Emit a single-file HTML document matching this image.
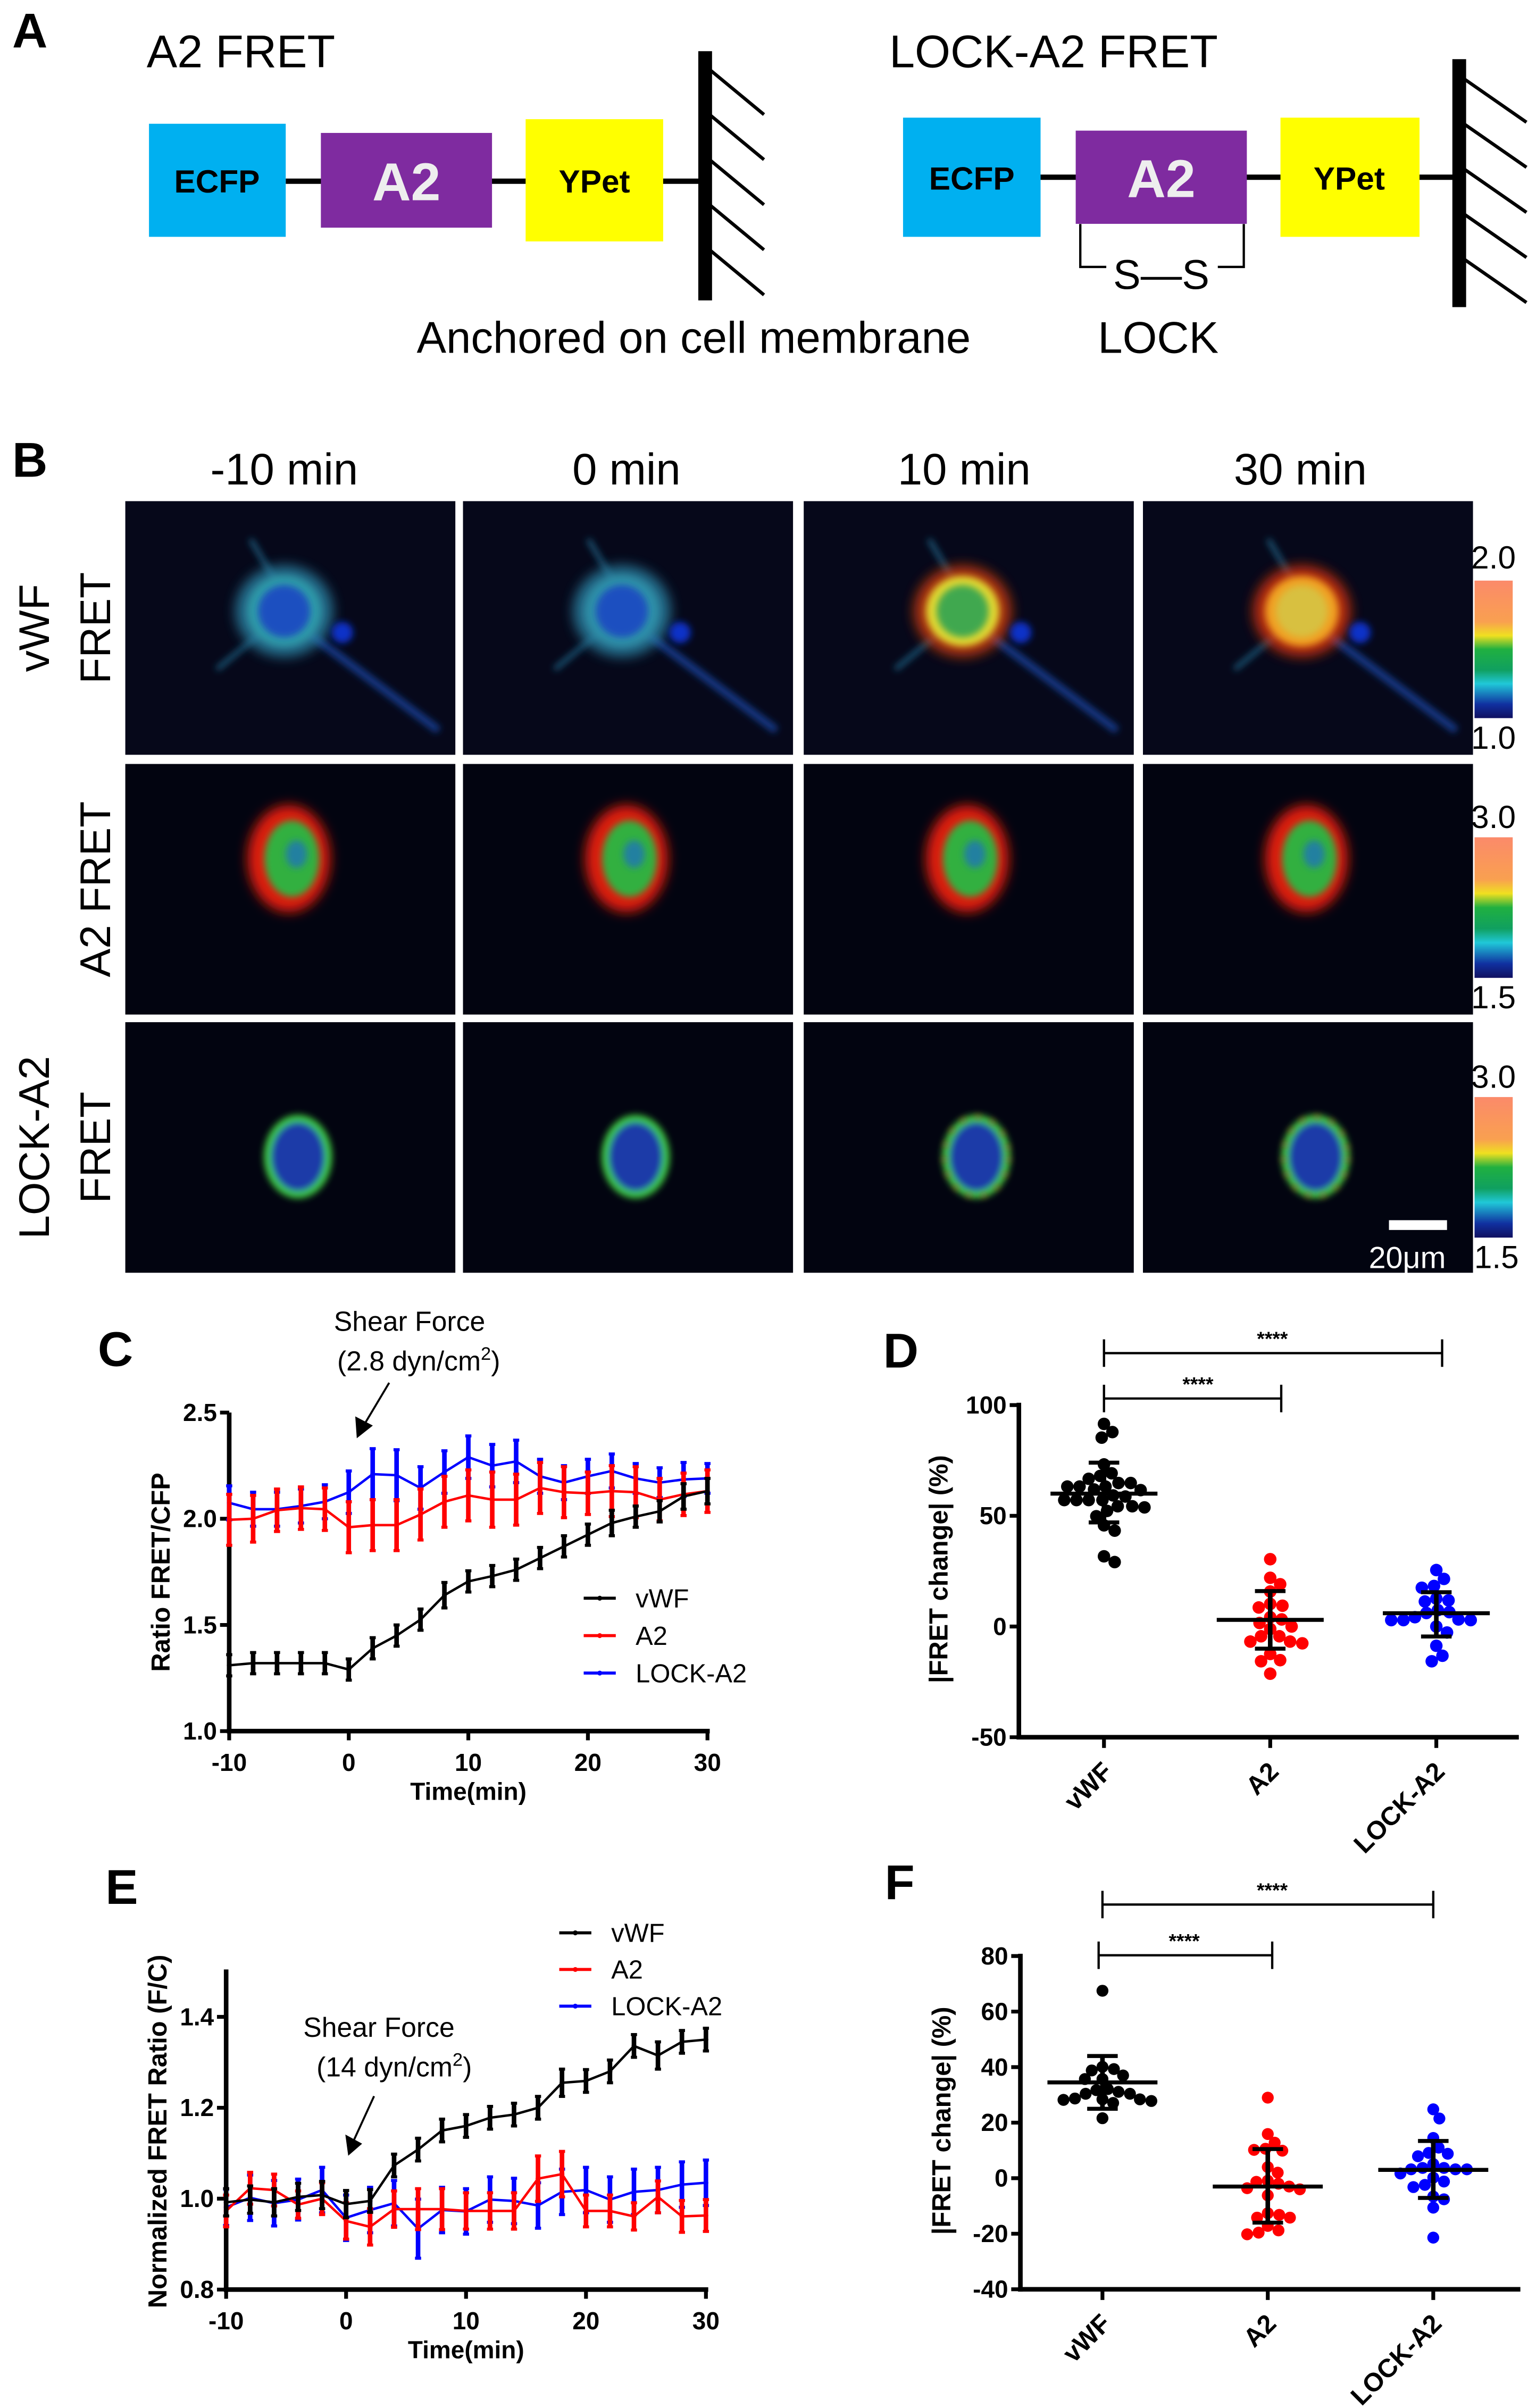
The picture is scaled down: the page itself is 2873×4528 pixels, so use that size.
<!DOCTYPE html>
<html><head><meta charset="utf-8"><title>FRET figure</title>
<style>
html,body{margin:0;padding:0;background:#fff;}
svg{display:block;}
text{font-family:"Liberation Sans",Arial,sans-serif;}
</style></head>
<body>
<svg id="fig" xmlns="http://www.w3.org/2000/svg" width="2873" height="4528" viewBox="0 0 1000 1576" preserveAspectRatio="none">
<defs>
<filter id="bl" x="-50%" y="-50%" width="200%" height="200%"><feGaussianBlur stdDeviation="2.2"/></filter>
<filter id="bl2" x="-50%" y="-50%" width="200%" height="200%"><feGaussianBlur stdDeviation="4"/></filter>
<linearGradient id="cbar" x1="0" y1="0" x2="0" y2="1">
<stop offset="0" stop-color="#fb8a6a"/><stop offset="0.3" stop-color="#f9a050"/><stop offset="0.4" stop-color="#f0e020"/><stop offset="0.5" stop-color="#20b040"/><stop offset="0.65" stop-color="#10a060"/><stop offset="0.75" stop-color="#20c8d8"/><stop offset="0.9" stop-color="#1030a0"/><stop offset="1" stop-color="#101060"/>
</linearGradient>
</defs>
<rect x="0" y="0" width="1000" height="1576" fill="#fff"/>

<!-- PANEL A -->
<g>
<text x="8" y="31" font-size="32" font-weight="bold">A</text>
<text x="96" y="44" font-size="30">A2 FRET</text>
<text x="582" y="44" font-size="30">LOCK-A2 FRET</text>
<line x1="187" y1="118.6" x2="461" y2="118.6" stroke="#000" stroke-width="3.5"/>
<rect x="97.5" y="81" width="89.5" height="74" fill="#00b0f0"/>
<text x="142" y="126" font-size="21" font-weight="bold" text-anchor="middle">ECFP</text>
<rect x="210" y="87" width="112" height="62" fill="#7f2ba0"/>
<text x="266" y="131" font-size="35" font-weight="bold" fill="#eee" text-anchor="middle">A2</text>
<rect x="344" y="78" width="90" height="80" fill="#ffff00"/>
<text x="389" y="126" font-size="21" font-weight="bold" text-anchor="middle">YPet</text>
<line x1="461.5" y1="33.5" x2="461.5" y2="196.6" stroke="#000" stroke-width="9"/>
<g stroke="#000" stroke-width="2.2">
<line x1="465" y1="46" x2="500" y2="75"/><line x1="465" y1="75.5" x2="500" y2="104.5"/><line x1="465" y1="105" x2="500" y2="134"/><line x1="465" y1="134.5" x2="500" y2="163.5"/><line x1="465" y1="164" x2="500" y2="193"/>
</g>
<line x1="681" y1="116" x2="955" y2="116" stroke="#000" stroke-width="3.5"/>
<rect x="591" y="77" width="90" height="78" fill="#00b0f0"/>
<text x="636" y="124" font-size="21" font-weight="bold" text-anchor="middle">ECFP</text>
<rect x="704" y="85.5" width="112" height="61" fill="#7f2ba0"/>
<text x="760" y="129" font-size="35" font-weight="bold" fill="#eee" text-anchor="middle">A2</text>
<rect x="838" y="77" width="91" height="78" fill="#ffff00"/>
<text x="883" y="124" font-size="21" font-weight="bold" text-anchor="middle">YPet</text>
<line x1="955" y1="38.7" x2="955" y2="201" stroke="#000" stroke-width="9"/>
<g stroke="#000" stroke-width="2.2">
<line x1="958" y1="51.5" x2="999" y2="80"/><line x1="958" y1="81" x2="999" y2="109.5"/><line x1="958" y1="110.5" x2="999" y2="139"/><line x1="958" y1="140" x2="999" y2="168.5"/><line x1="958" y1="169.5" x2="999" y2="198"/>
</g>
<polyline points="707,146.6 707,174.7 724,174.7" fill="none" stroke="#000" stroke-width="1.5"/>
<polyline points="814,146.6 814,174.7 797,174.7" fill="none" stroke="#000" stroke-width="1.5"/>
<text x="760" y="189" font-size="27" text-anchor="middle">S—S</text>
<text x="454" y="231" font-size="29" text-anchor="middle">Anchored on cell membrane</text>
<text x="758" y="231" font-size="29" text-anchor="middle">LOCK</text>
</g>

<!-- PANEL B -->
<g id="panelB">
<text x="8" y="312" font-size="32" font-weight="bold">B</text>
<text x="186" y="317" font-size="29" text-anchor="middle">-10 min</text>
<text x="410" y="317" font-size="29" text-anchor="middle">0 min</text>
<text x="631" y="317" font-size="29" text-anchor="middle">10 min</text>
<text x="851" y="317" font-size="29" text-anchor="middle">30 min</text>
<text transform="translate(32,411) rotate(-90)" font-size="28" text-anchor="middle">vWF</text>
<text transform="translate(72,411) rotate(-90)" font-size="28" text-anchor="middle">FRET</text>
<text transform="translate(72,582) rotate(-90)" font-size="28" text-anchor="middle">A2 FRET</text>
<text transform="translate(32,751) rotate(-90)" font-size="28" text-anchor="middle">LOCK-A2</text>
<text transform="translate(72,751) rotate(-90)" font-size="28" text-anchor="middle">FRET</text>
<rect x="965" y="380" width="25" height="90" fill="url(#cbar)"/>
<rect x="965" y="548" width="25" height="92" fill="url(#cbar)"/>
<rect x="965" y="718" width="25" height="92" fill="url(#cbar)"/>
</g>

<!-- PANEL C -->
<g id="panelC">
<text x="64" y="894" font-size="32" font-weight="bold">C</text>
<text x="268" y="871" font-size="18" text-anchor="middle">Shear Force</text>
<text x="274" y="897" font-size="18" text-anchor="middle">(2.8 dyn/cm<tspan font-size="12" dy="-7">2</tspan><tspan dy="7">)</tspan></text>
<line x1="254.7" y1="905" x2="238" y2="933" stroke="#000" stroke-width="1.3"/>
<polygon points="233.5,941.3 232.5,927 244,933" fill="#000"/>
</g>

<!-- PANEL E -->
<g id="panelE">
<text x="69" y="1246" font-size="32" font-weight="bold">E</text>
<text x="248" y="1333" font-size="18" text-anchor="middle">Shear Force</text>
<text x="258" y="1359" font-size="18" text-anchor="middle">(14 dyn/cm<tspan font-size="12" dy="-7">2</tspan><tspan dy="7">)</tspan></text>
<line x1="244.8" y1="1371.9" x2="231" y2="1402" stroke="#000" stroke-width="1.3"/>
<polygon points="227.9,1410.9 226,1397 237,1403" fill="#000"/>
</g>

<!-- PANEL D / F -->
<g id="panelD">
<text x="578" y="895" font-size="32" font-weight="bold">D</text>
</g>
<g id="panelF">
<text x="579" y="1243" font-size="32" font-weight="bold">F</text>
</g>

<!-- Colorbar labels drawn last -->
<g font-size="21" text-anchor="end">
<text x="992" y="372">2.0</text>
<text x="992" y="490">1.0</text>
<text x="992" y="542">3.0</text>
<text x="992" y="660">1.5</text>
<text x="992" y="712">3.0</text>
<text x="994" y="830">1.5</text>
</g>
</svg>

<script>
// ---------- Panel C data ----------
var timeC = [-10,-8,-6,-4,-2,0,2,4,6,8,10,12,14,16,18,20,22,24,26,28,30];
var cVwf = [1.31,1.32,1.32,1.32,1.32,1.29,1.39,1.45,1.525,1.64,1.705,1.73,1.76,1.815,1.87,1.925,1.98,2.01,2.035,2.105,2.13];
var cVwfErr = [0.05,0.05,0.05,0.05,0.05,0.05,0.05,0.05,0.05,0.06,0.05,0.05,0.05,0.05,0.05,0.05,0.06,0.05,0.05,0.06,0.06];
var cA2 = [1.995,2.0,2.04,2.05,2.045,1.96,1.97,1.97,2.02,2.08,2.11,2.09,2.09,2.145,2.125,2.12,2.13,2.125,2.09,2.115,2.13];
var cA2Err = [0.12,0.11,0.1,0.1,0.1,0.12,0.12,0.12,0.12,0.12,0.12,0.13,0.12,0.12,0.12,0.1,0.12,0.12,0.1,0.1,0.1];
var cLock = [2.075,2.045,2.045,2.06,2.08,2.125,2.21,2.205,2.145,2.22,2.29,2.25,2.27,2.2,2.17,2.2,2.225,2.19,2.17,2.185,2.19];
var cLockErr = [0.08,0.08,0.08,0.08,0.08,0.1,0.12,0.12,0.1,0.1,0.1,0.1,0.1,0.08,0.08,0.08,0.08,0.07,0.07,0.08,0.07];
var cYTicks = [1.0,1.5,2.0,2.5];
var cYTickLabels = ["1.0","1.5","2.0","2.5"];
var cXTicks = [-10,0,10,20,30];
var cXTickLabels = ["-10","0","10","20","30"];

// ---------- Panel E data ----------
var timeE = [-10,-8,-6,-4,-2,0,2,4,6,8,10,12,14,16,18,20,22,24,26,28,30];
var eVwf = [0.992,0.998,0.992,1.004,1.008,0.988,0.995,1.073,1.108,1.15,1.16,1.178,1.185,1.2,1.255,1.259,1.28,1.336,1.315,1.345,1.35];
var eVwfErr = [0.03,0.03,0.03,0.03,0.03,0.03,0.025,0.025,0.025,0.025,0.025,0.025,0.025,0.025,0.03,0.025,0.025,0.025,0.03,0.025,0.025];
var eA2 = [0.973,1.023,1.019,0.987,1.0,0.951,0.938,0.977,0.977,0.977,0.973,0.973,0.973,1.044,1.054,0.973,0.973,0.961,1.004,0.961,0.963];
var eA2Err = [0.035,0.035,0.035,0.03,0.035,0.04,0.04,0.04,0.045,0.045,0.04,0.04,0.04,0.05,0.05,0.035,0.035,0.03,0.035,0.035,0.035];
var eLock = [0.981,1.002,0.99,0.998,1.019,0.958,0.975,0.99,0.934,0.975,0.972,0.998,0.995,0.985,1.015,1.019,0.998,1.015,1.019,1.031,1.035];
var eLockErr = [0.04,0.05,0.05,0.045,0.05,0.05,0.05,0.05,0.065,0.05,0.05,0.05,0.05,0.05,0.05,0.05,0.05,0.05,0.05,0.05,0.05];
var eYTicks = [0.8,1.0,1.2,1.4];
var eYTickLabels = ["0.8","1.0","1.2","1.4"];
var eXTicks = [-10,0,10,20,30];
var eXTickLabels = ["-10","0","10","20","30"];

// ---------- Panel D data ----------
var groups = ["vWF","A2","LOCK-A2"];
var dVwf = [91.5,87.8,85.3,73.2,69.2,68,66.7,64.8,64.8,63.2,63.2,63.2,61.9,61.6,58.7,57.1,57.1,57.1,57.1,59.2,54.3,53.8,54.3,52.2,49.8,45.7,43.3,29.1,31.7];
var dA2 = [30.4,22,19.1,15.8,10.2,8.6,9.4,4.2,3.2,1.6,-1.1,0,-4.4,-4.4,-6.8,-7.6,-6.8,-12.4,-15.2,-15.7,-21.3];
var dLock = [25.5,21.5,17.5,18.3,11.8,12.6,11.3,7.4,6.1,6.5,3.2,2.9,2.9,2.9,4.2,0,-2.7,-8.7,-13.2,-15.7];
var dMean = [60,3,6];
var dSdHigh = [74,16,15.5];
var dSdLow = [47,-10,-4.5];
var dYTicks = [-50,0,50,100];
var dYTickLabels = ["-50","0","50","100"];

// ---------- Panel F data ----------
var fVwf = [67.5,39.3,40.1,37,35.7,35.7,38.8,31.7,30.4,30.4,31.1,32.1,28.7,28.2,27.1,27.8,28.4,28.4,21.6];
var fA2 = [29,15.9,12.8,10.6,9.9,10.2,4,2,-0.9,-2,-3.6,-6.2,-4,-3,-1.3,-13.2,-14.2,-14.2,-12.6,-18.8,-20.2,-19.6,-17.2];
var fLock = [24.8,21.5,14.5,11,9.1,8.8,7.9,5.1,3.7,3.2,3.2,3.2,3.7,1.7,0.2,-1.2,-2.4,-3.2,-6.6,-7.6,-10.6,-21.4];
var fMean = [34.5,-3,3];
var fSdHigh = [44,10.5,13.4];
var fSdLow = [25,-16,-7.1];
var fYTicks = [-40,-20,0,20,40,60,80];
var fYTickLabels = ["-40","-20","0","20","40","60","80"];

var NS = "http://www.w3.org/2000/svg";
function mk(tag, attrs, parent) {
  var el = document.createElementNS(NS, tag);
  for (var k in attrs) el.setAttribute(k, attrs[k]);
  parent.appendChild(el);
  return el;
}

// ---------- Panel B microscopy images ----------
(function(){
  var pb = document.getElementById('panelB');
  var g = document.createElementNS(NS, 'g');
  
  
  pb.insertBefore(g, pb.firstChild);
  var colX = [82,303,526,748];
  var rowY = [328,500,669];
  var rowH = [166,164,164];
  for (var r = 0; r < 3; r++) {
    for (var c = 0; c < 4; c++) {
      var x0 = colX[c], y0 = rowY[r];
      var fr = mk('rect', {x:x0, y:y0, width:216, height:rowH[r], fill: r===0 ? '#06081a' : '#020410'}, g);
      
      
      var cg = mk('g', {}, g);
      
      
      if (r === 0) {
        var cx = x0 + 104, cy = y0 + 72;
        mk('line', {x1:cx+10, y1:cy+10, x2:x0+205, y2:y0+150, stroke:'#123a8a', 'stroke-width':5, filter:'url(#bl)'}, cg);
        mk('line', {x1:cx-10, y1:cy+10, x2:x0+60, y2:y0+110, stroke:'#1a5a7a', 'stroke-width':3, filter:'url(#bl)'}, cg);
        mk('line', {x1:cx, y1:cy-10, x2:cx-22, y2:y0+25, stroke:'#1a5a7a', 'stroke-width':3, filter:'url(#bl)'}, cg);
        var outer = ['#2a80a0','#2a80a0','#c83a10','#d03010'][c];
        var ring = ['#2f9aa8','#2f90a8','#e0d830','#f0a020'][c];
        var inner = ['#1c50c0','#1c50c0','#40a850','#d8c040'][c];
        mk('ellipse', {cx:cx, cy:cy, rx:32, ry:30, fill:outer, filter:'url(#bl2)', opacity:0.85}, cg);
        mk('ellipse', {cx:cx, cy:cy, rx:24, ry:23, fill:ring, filter:'url(#bl)'}, cg);
        mk('ellipse', {cx:cx, cy:cy, rx:17, ry:17, fill:inner, filter:'url(#bl)'}, cg);
        mk('circle', {cx:cx+38, cy:cy+14, r:7, fill:'#1030c8', filter:'url(#bl)'}, cg);
      } else if (r === 1) {
        var cx2 = x0 + 107, cy2 = y0 + 62;
        mk('ellipse', {cx:cx2, cy:cy2, rx:27, ry:35, fill:'#e01a10', filter:'url(#bl2)'}, cg);
        mk('ellipse', {cx:cx2+2, cy:cy2, rx:18, ry:25, fill:'#30b040', filter:'url(#bl)'}, cg);
        mk('ellipse', {cx:cx2+5, cy:cy2-3, rx:7, ry:9, fill:'#2080a0', filter:'url(#bl)'}, cg);
      } else {
        var cx3 = x0 + 113, cy3 = y0 + 88;
        mk('ellipse', {cx:cx3, cy:cy3, rx:20, ry:25, fill:'#1a3aa8', stroke:'#40d040', 'stroke-width':4.5, filter:'url(#bl)'}, cg);
        if (c >= 2) {
          mk('ellipse', {cx:cx3, cy:cy3, rx:21, ry:26, fill:'none', stroke:'#e84020', 'stroke-width':1.5, 'stroke-dasharray':'4 6', filter:'url(#bl)'}, cg);
        }
      }
    }
  }
  var sb = mk('rect', {x:909, y:798.6, width:38, height:6.4, fill:'#fff'}, g);
  
  
  var st = mk('text', {x:921, y:830, 'font-size':20, fill:'#fff', 'text-anchor':'middle', 'font-family':'Liberation Serif, serif'}, g);
  st.textContent = '20\u03bcm';
  
  
})();

// ---------- Line chart builder ----------
function lineChart(gid, cfg) {
  var g = document.getElementById(gid);
  var xs = function(t){ return cfg.x0 + (t - cfg.tMin) * (cfg.x1 - cfg.x0) / (cfg.tMax - cfg.tMin); };
  var ys = function(v){ return cfg.yB - (v - cfg.vMin) * (cfg.yB - cfg.yT) / (cfg.vMax - cfg.vMin); };
  var ax = mk('line', {x1:cfg.x0, y1:cfg.axisTop, x2:cfg.x0, y2:cfg.yB + 1.5, stroke:'#000', 'stroke-width':3}, g);
  
  
  var axx = mk('line', {x1:cfg.x0 - 1.5, y1:cfg.yB, x2:cfg.x1 + 1.5, y2:cfg.yB, stroke:'#000', 'stroke-width':3}, g);
  
  
  cfg.yTicks.forEach(function(v, i){
    var y = ys(v);
    var tk = mk('line', {x1:cfg.x0 - 6, y1:y, x2:cfg.x0, y2:y, stroke:'#000', 'stroke-width':2.5}, g);
    
    
    var tl = mk('text', {x:cfg.x0 - 8, y:y + 5.5, 'font-size':16, 'font-weight':'bold', 'text-anchor':'end'}, g);
    tl.textContent = cfg.yTickLabels[i];
    
    
  });
  cfg.xTicks.forEach(function(t, i){
    var x = xs(t);
    var tk = mk('line', {x1:x, y1:cfg.yB, x2:x, y2:cfg.yB + 6, stroke:'#000', 'stroke-width':2.5}, g);
    
    
    var tl = mk('text', {x:x, y:cfg.yB + 26, 'font-size':16, 'font-weight':'bold', 'text-anchor':'middle'}, g);
    tl.textContent = cfg.xTickLabels[i];
    
    
  });
  var xt = mk('text', {x:(cfg.x0 + cfg.x1) / 2, y:cfg.yB + 45, 'font-size':16, 'font-weight':'bold', 'text-anchor':'middle'}, g);
  xt.textContent = 'Time(min)';
  
  
  var yt = mk('text', {transform:'translate(' + cfg.ylx + ',' + cfg.yly + ') rotate(-90)', 'font-size':17, 'font-weight':'bold', 'text-anchor':'middle'}, g);
  yt.textContent = cfg.yLabel;
  
  
  cfg.series.forEach(function(s){
    var sg = mk('g', {}, g);
    
    
    s.vals.forEach(function(v, i){
      var x = xs(cfg.time[i]);
      var eb = mk('line', {x1:x, y1:ys(v + s.err[i]), x2:x, y2:ys(v - s.err[i]), stroke:s.color, 'stroke-width':3}, sg);
      
      
      var c1 = mk('line', {x1:x - 2, y1:ys(v + s.err[i]), x2:x + 2, y2:ys(v + s.err[i]), stroke:s.color, 'stroke-width':2}, sg);
      
      
      var c2 = mk('line', {x1:x - 2, y1:ys(v - s.err[i]), x2:x + 2, y2:ys(v - s.err[i]), stroke:s.color, 'stroke-width':2}, sg);
      
      
    });
    var pts = s.vals.map(function(v, i){ return xs(cfg.time[i]).toFixed(2) + ',' + ys(v).toFixed(2); }).join(' ');
    var pl = mk('polyline', {points:pts, fill:'none', stroke:s.color, 'stroke-width':1.6}, sg);
    
    
    s.vals.forEach(function(v, i){
      var pt = mk('circle', {cx:xs(cfg.time[i]), cy:ys(v), r:1.6, fill:s.color}, sg);
      
      
    });
  });
  cfg.legend.forEach(function(s, i){
    var y = cfg.legY + i * cfg.legDy;
    var lg = mk('g', {}, g);
    
    
    mk('line', {x1:cfg.legX, y1:y, x2:cfg.legX + 21, y2:y, stroke:s.color, 'stroke-width':2}, lg);
    mk('circle', {cx:cfg.legX + 10.5, cy:y, r:1.6, fill:s.color}, lg);
    var lt = mk('text', {x:cfg.legX + 34, y:y + 6, 'font-size':17}, lg);
    lt.textContent = s.label;
  });
}

var sC = [{name:'lock-a2', label:'LOCK-A2', color:'#0000ff', vals:cLock, err:cLockErr},
          {name:'a2', label:'A2', color:'#ff0000', vals:cA2, err:cA2Err},
          {name:'vwf', label:'vWF', color:'#000000', vals:cVwf, err:cVwfErr}];
lineChart('panelC', {p:'c', x0:150, x1:463, tMin:-10, tMax:30, yB:1133, yT:924.5, vMin:1.0, vMax:2.5, axisTop:924.5,
  time:timeC, yTicks:cYTicks, yTickLabels:cYTickLabels, xTicks:cXTicks, xTickLabels:cXTickLabels,
  ylx:111, yly:1029, yLabel:'Ratio FRET/CFP', series:sC,
  legend:[sC[2], sC[1], sC[0]], legX:382, legY:1046, legDy:24.5});

var sE = [{name:'lock-a2', label:'LOCK-A2', color:'#0000ff', vals:eLock, err:eLockErr},
          {name:'a2', label:'A2', color:'#ff0000', vals:eA2, err:eA2Err},
          {name:'vwf', label:'vWF', color:'#000000', vals:eVwf, err:eVwfErr}];
lineChart('panelE', {p:'e', x0:148, x1:462, tMin:-10, tMax:30, yB:1498.5, yT:1320, vMin:0.8, vMax:1.4, axisTop:1289,
  time:timeE, yTicks:eYTicks, yTickLabels:eYTickLabels, xTicks:eXTicks, xTickLabels:eXTickLabels,
  ylx:109, yly:1395, yLabel:'Normalized FRET Ratio (F/C)', series:sE,
  legend:[sE[2], sE[1], sE[0]], legX:366, legY:1265, legDy:24});

// ---------- Scatter builder ----------
function scatter(gid, cfg) {
  var g = document.getElementById(gid);
  var ys = function(v){ return cfg.yB - (v - cfg.vMin) * (cfg.yB - cfg.yT) / (cfg.vMax - cfg.vMin); };
  var ax = mk('line', {x1:cfg.x0, y1:cfg.yT - 1.5, x2:cfg.x0, y2:cfg.yB + 1.5, stroke:'#000', 'stroke-width':3}, g);
  
  
  var axx = mk('line', {x1:cfg.x0 - 1.5, y1:cfg.yB, x2:cfg.xEnd, y2:cfg.yB, stroke:'#000', 'stroke-width':3}, g);
  
  
  cfg.yTicks.forEach(function(v, i){
    var y = ys(v);
    var tk = mk('line', {x1:cfg.x0 - 6, y1:y, x2:cfg.x0, y2:y, stroke:'#000', 'stroke-width':2.5}, g);
    
    
    var tl = mk('text', {x:cfg.x0 - 8, y:y + 5.5, 'font-size':16, 'font-weight':'bold', 'text-anchor':'end'}, g);
    tl.textContent = cfg.yTickLabels[i];
    
    
  });
  var yt = mk('text', {transform:'translate(' + cfg.ylx + ',' + cfg.yly + ') rotate(-90)', 'font-size':17, 'font-weight':'bold', 'text-anchor':'middle'}, g);
  yt.textContent = '|FRET change| (%)';
  
  
  var colors = ['#000000','#ff0000','#0000ff'];
  var r = cfg.r;
  cfg.data.forEach(function(arr, gi){
    var cx = cfg.cats[gi];
    var tk = mk('line', {x1:cx, y1:cfg.yB, x2:cx, y2:cfg.yB + 7, stroke:'#000', 'stroke-width':2.5}, g);
    
    
    var lb = mk('text', {transform:'translate(' + (cx - 2) + ',' + (cfg.yB + 15) + ') rotate(-45)', 'font-size':17, 'font-weight':'bold', 'text-anchor':'end', 'dominant-baseline':'hanging'}, g);
    lb.textContent = groups[gi];
    
    
    var sg = mk('g', {}, g);
    
    
    var sorted = arr.slice().sort(function(a, b){ return b - a; });
    var placed = [];
    sorted.forEach(function(v){
      var y = ys(v), off = 0;
      for (var k = 0; k < 400; k++) {
        var cand = (k === 0) ? 0 : (k % 2 ? 1 : -1) * Math.ceil(k / 2) * 0.5;
        var ok = placed.every(function(p){ var dx = p[0] - cand, dy = p[1] - y; return dx * dx + dy * dy >= (2 * r - 0.6) * (2 * r - 0.6); });
        if (ok) { off = cand; break; }
      }
      placed.push([off, y]);
      var dot = mk('circle', {cx:cx + off, cy:y, r:r, fill:colors[gi]}, sg);
      
      
    });
    var m = mk('line', {x1:cx - cfg.mw, y1:ys(cfg.mean[gi]), x2:cx + cfg.mw, y2:ys(cfg.mean[gi]), stroke:'#000', 'stroke-width':2.6}, g);
    
    
    var sd = mk('line', {x1:cx, y1:ys(cfg.hi[gi]), x2:cx, y2:ys(cfg.lo[gi]), stroke:'#000', 'stroke-width':3}, g);
    
    
    var h = mk('line', {x1:cx - 10, y1:ys(cfg.hi[gi]), x2:cx + 10, y2:ys(cfg.hi[gi]), stroke:'#000', 'stroke-width':2.6}, g);
    
    
    var l = mk('line', {x1:cx - 10, y1:ys(cfg.lo[gi]), x2:cx + 10, y2:ys(cfg.lo[gi]), stroke:'#000', 'stroke-width':2.6}, g);
    
    
  });
  cfg.brackets.forEach(function(b, i){
    var bg = mk('g', {stroke:'#000', 'stroke-width':1.5}, g);
    
    
    mk('line', {x1:b.xa, y1:b.y, x2:b.xb, y2:b.y}, bg);
    mk('line', {x1:b.xa, y1:b.y - 9, x2:b.xa, y2:b.y + 9}, bg);
    mk('line', {x1:b.xb, y1:b.y - 9, x2:b.xb, y2:b.y + 9}, bg);
    var st = mk('text', {x:b.sx, y:b.y - 5, 'font-size':13, 'font-weight':'bold', 'text-anchor':'middle'}, g);
    st.textContent = '****';
    
    
  });
}

scatter('panelD', {p:'d', x0:666.8, xEnd:994, yB:1137, yT:919.6, vMin:-50, vMax:100, r:4.1, mw:35,
  cats:[722.5,831.3,940], data:[dVwf,dA2,dLock], mean:dMean, hi:dSdHigh, lo:dSdLow,
  yTicks:dYTicks, yTickLabels:dYTickLabels, ylx:620, yly:1027,
  brackets:[{xa:722.5, xb:943.8, y:885.6, sx:832.7}, {xa:722.5, xb:838.5, y:915.3, sx:784}]});

scatter('panelF', {p:'f', x0:667.8, xEnd:995, yB:1498.3, yT:1280.2, vMin:-40, vMax:80, r:3.9, mw:36,
  cats:[721.5,829.7,938], data:[fVwf,fA2,fLock], mean:fMean, hi:fSdHigh, lo:fSdLow,
  yTicks:fYTicks, yTickLabels:fYTickLabels, ylx:622, yly:1388,
  brackets:[{xa:721.5, xb:938, y:1246.5, sx:832.6}, {xa:719, xb:832.6, y:1279.7, sx:775}]});
</script>
</body></html>
